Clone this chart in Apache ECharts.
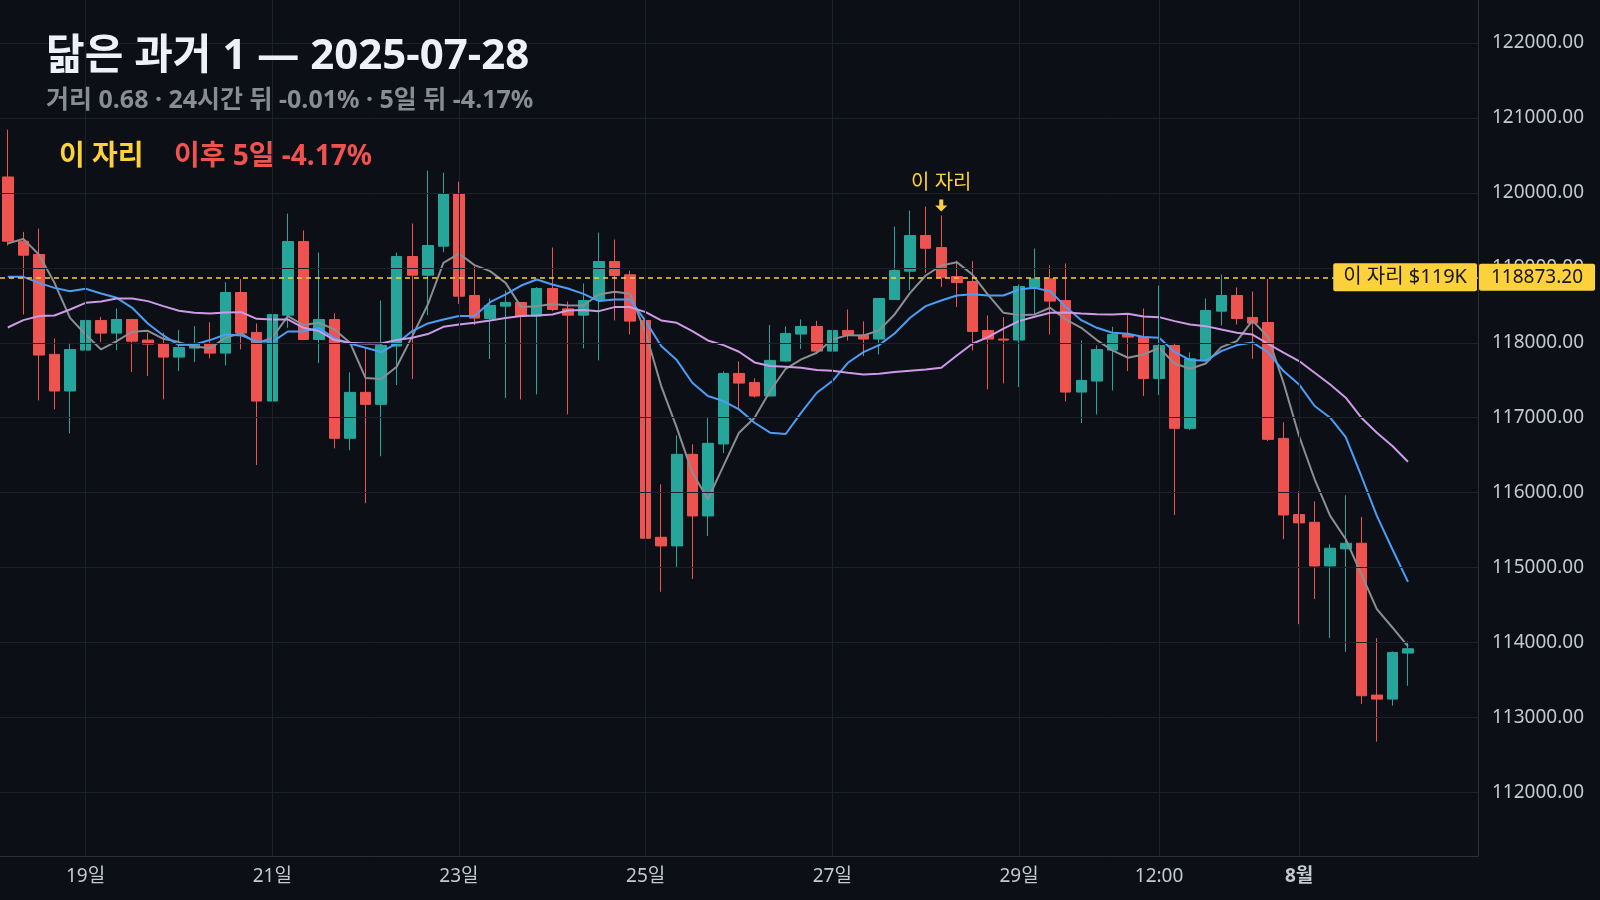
<!DOCTYPE html>
<html>
<head>
<meta charset="utf-8">
<script src="https://cdn.jsdelivr.net/npm/echarts@6/dist/echarts.min.js"></script>
<style>
  html, body { margin: 0; padding: 0; background: #0c0f16; }
  #chart { width: 1600px; height: 900px; }
</style>
</head>
<body>
<div id="chart"></div>
<script>
// 4시간봉, 2025-07-18 04:00 부터
const open  = [120213,119356,119178,117845,117356,117902,118298,118129,118311,118036,117991,117809,117929,117991,117862,118671,118138,117222,118369,119351,118044,118311,116725,117338,117178,117956,119151,118902,119289,119991,118631,118325,118489,118538,118356,118724,118453,118369,118578,119085,118907,118298,115404,115289,116511,115689,116649,117591,117471,117289,117756,118116,118218,117889,118165,118102,118049,118578,118956,119431,119271,118884,118818,118165,118049,118036,118738,118853,118564,117342,117489,117902,118111,118076,117524,117964,116858,117769,118422,118631,118338,118271,116724,115707,115604,115022,115249,115324,113298,113244,113858]
const high  = [120844,119480,119524,118058,118000,118347,118347,118458,118311,118133,118133,118169,118222,118276,118809,118853,118258,118591,119724,119498,119204,118391,117605,117933,118565,119204,119591,120298,120271,120151,119022,118591,118698,118538,118742,119271,118551,118791,119471,119378,118964,118356,116111,116765,116645,117005,117618,117751,117525,118236,118218,118311,118293,118365,118444,118285,118591,119551,119764,119818,119698,119098,119089,118365,118342,118778,119258,119031,119058,118031,117964,118213,118373,118458,118764,118000,117871,118591,118911,118738,118684,118853,116938,116018,115884,115311,115965,115676,114058,113880,114013]
const low   = [119298,118378,117231,117111,116791,117578,118009,117902,117609,117556,117245,117622,117742,117791,117698,117911,116369,116458,118200,118036,117729,116591,116565,115858,116485,117436,117516,118369,119209,118520,118236,117782,117262,117245,117311,118422,117045,117925,117765,118298,118111,115302,114676,115009,114849,115422,116529,117111,117270,117280,117747,117916,117871,117791,118031,117822,117844,118578,118702,118933,118742,118476,117898,117378,117458,117409,118378,118111,117218,116929,117044,117364,117622,117289,117302,115702,116836,117760,118231,118244,117787,116689,115378,114244,114578,114058,113876,113178,112676,113156,113422]
const close = [119356,119169,117836,117356,117911,118298,118129,118311,118022,117982,117809,117938,117991,117862,118671,118129,117222,118378,119351,118044,118311,116725,117338,117178,117964,119151,118902,119298,119991,118622,118329,118498,118538,118356,118724,118444,118369,118565,119085,118898,118289,115391,115289,116511,115689,116658,117591,117462,117289,117765,118125,118218,117889,118165,118102,118049,118591,118964,119431,119262,118873.2,118804,118151,118049,118036,118751,118853,118556,117342,117498,117911,118111,118076,117524,117964,116858,117787,118431,118631,118324,118262,116711,115702,115596,115022,115258,115324,113289,113244,113867,113916]

// 이동평균선
const maFast = [119324,119387,119178,118800,118333,118111,117911,118022,118147,118160,118053,118009,117947,117929,118067,118129,117991,118067,118356,118236,118267,118178,118000,117529,117516,117680,118089,118511,119067,119191,119036,118956,118800,118476,118489,118516,118498,118498,118644,118680,118653,118133,117422,116867,116267,115911,116356,116800,117000,117356,117653,117778,117867,118044,118102,118098,118165,118378,118667,118898,119031,119076,118911,118644,118400,118369,118378,118467,118311,118200,118036,117898,117800,117844,117933,117724,117653,117724,117942,118022,118295,118080,117467,116756,116178,115689,115378,114911,114444,114200,113947]
const maMid  = [118880,118880,118800,118733,118689,118720,118658,118600,118467,118258,118098,117969,117978,118036,118111,118098,118022,118013,118151,118151,118196,118058,117991,117933,117876,117991,118156,118258,118311,118356,118356,118542,118645,118764,118844,118778,118724,118653,118556,118578,118578,118289,117956,117769,117467,117289,117222,117111,116933,116800,116782,117067,117333,117489,117733,117876,117969,118124,118333,118489,118564,118631,118649,118631,118631,118711,118733,118689,118480,118302,118200,118133,118120,118076,118067,117880,117769,117760,117889,117969,118005,117876,117622,117444,117156,117000,116742,116222,115689,115244,114809]
const maSlow = [118204,118302,118356,118364,118444,118533,118551,118591,118591,118556,118489,118427,118400,118391,118404,118409,118320,118311,118311,118200,118156,118036,118000,117991,117991,118036,118067,118116,118213,118244,118267,118298,118331,118356,118364,118378,118431,118436,118422,118476,118476,118409,118298,118267,118156,118031,117969,117880,117738,117689,117680,117667,117636,117627,117600,117578,117587,117609,117627,117644,117667,117831,117987,118076,118189,118289,118347,118400,118404,118391,118382,118378,118387,118351,118342,118289,118244,118222,118178,118133,118109,117987,117867,117756,117600,117444,117267,117000,116800,116622,116413]

const tickIdx    = [5, 17, 29, 41, 53, 65, 74, 83]
const tickLabels = ['19일', '21일', '23일', '25일', '27일', '29일', '12:00', '8월']
const yTicks     = [112000,113000,114000,115000,116000,117000,118000,119000,120000,121000,122000]

const refIndex = 60
const refPrice = 118873.2
const padBars  = 4   // 오른쪽 여백

// 카테고리 (4시간 간격)
const cats = []
const t0 = Date.UTC(2025, 6, 18, 4)
for (let i = 0; i < open.length + padBars; i++) {
    const d = new Date(t0 + i * 4 * 3600 * 1000)
    const p = n => String(n).padStart(2, '0')
    cats.push(p(d.getUTCMonth() + 1) + '-' + p(d.getUTCDate()) + ' ' + p(d.getUTCHours()) + ':00')
}

const UP = '#26a69a', DOWN = '#ef5350', YELLOW = '#fdd13a'
const GRID = '#1c2029', AXIS = '#2c303a', LABEL = '#c4c8d0'
const FONT = '"Noto Sans", "Noto Sans CJK KR", sans-serif'

const ohlc = open.map((o, i) => [o, close[i], low[i], high[i]])

const chart = echarts.init(document.getElementById('chart'))

const option = {
    backgroundColor: '#0c0f16',
    animation: false,
    textStyle: { fontFamily: FONT },
    title: [
        { text: '닮은 과거 1 — 2025-07-28', left: 46, top: 36, padding: 0,
          textStyle: { color: '#eef1f5', fontSize: 42, fontWeight: 'bold', fontFamily: FONT } },
        { text: '거리 0.68 · 24시간 뒤 -0.01% · 5일 뒤 -4.17%', left: 46, top: 88, padding: 0,
          textStyle: { color: '#878c95', fontSize: 25, fontWeight: 'bold', fontFamily: FONT } },
        { text: '이 자리', left: 59, top: 143, padding: 0,
          textStyle: { color: YELLOW, fontSize: 28, fontWeight: 'bold', fontFamily: FONT } },
        { text: '이후 5일 -4.17%', left: 174, top: 143, padding: 0,
          textStyle: { color: DOWN, fontSize: 28, fontWeight: 'bold', fontFamily: FONT } },
    ],
    grid: { left: 0, right: 122, top: 0, bottom: 44 },
    xAxis: {
        type: 'category',
        data: cats,
        boundaryGap: true,
        axisLine: { show: true, lineStyle: { color: AXIS } },
        axisTick: { show: false },
        splitLine: { show: false },
        axisLabel: {
            interval: (i) => tickIdx.includes(i),
            formatter: (v, i) => {
                const k = tickIdx.indexOf(i)
                if (k < 0) return ''
                return tickLabels[k] === '8월' ? '{b|' + tickLabels[k] + '}' : tickLabels[k]
            },
            color: LABEL, fontSize: 19, margin: 11, fontFamily: FONT,
            rich: { b: { fontWeight: 'bold', color: LABEL, fontSize: 19, fontFamily: FONT } }
        }
    },
    yAxis: {
        type: 'value',
        position: 'right',
        min: 111150,
        max: 122575,
        axisLine: { show: true, lineStyle: { color: AXIS } },
        axisTick: { show: false },
        splitLine: { show: false },
        axisLabel: {
            customValues: yTicks,
            formatter: v => v.toFixed(2),
            color: LABEL, fontSize: 19, margin: 14, fontFamily: FONT
        }
    },
    series: [
        // 격자
        {
            type: 'line', data: [], silent: true, z: 0,
            markLine: {
                silent: true, symbol: 'none', animation: false,
                label: { show: false },
                lineStyle: { color: GRID, width: 1, type: 'solid' },
                emphasis: { disabled: true },
                data: [
                    ...yTicks.map(v => ({ yAxis: v })),
                    ...tickIdx.map(i => ({ xAxis: cats[i] }))
                ]
            }
        },
        {
            type: 'candlestick',
            data: ohlc,
            barWidth: 11,
            z: 2,
            itemStyle: { color: UP, color0: DOWN, borderColor: UP, borderColor0: DOWN, borderWidth: 1 },
            markPoint: {
                silent: true,
                animation: false,
                data: [{
                    coord: [cats[refIndex], high[refIndex]],
                    symbol: 'path://M4,0 L8,0 L8,6 L12,6 L6,12 L0,6 L4,6 Z',
                    symbolSize: [12, 12],
                    symbolOffset: [0, -10],
                    itemStyle: { color: YELLOW },
                    label: {
                        show: true, formatter: '이 자리', position: 'top', distance: 6,
                        color: YELLOW, fontSize: 20, fontFamily: FONT
                    }
                }]
            }
        },
        { type: 'line', data: maFast, symbol: 'none', z: 3, lineStyle: { color: '#8b8e93', width: 2 } },
        { type: 'line', data: maMid,  symbol: 'none', z: 3, lineStyle: { color: '#4a9ef5', width: 2 } },
        { type: 'line', data: maSlow, symbol: 'none', z: 3, lineStyle: { color: '#cd9ae8', width: 2 } },
        // 기준가 점선 + 축 태그
        {
            type: 'line', data: [], silent: true, z: 5,
            markLine: {
                silent: true, symbol: 'none', animation: false,
                emphasis: { disabled: true },
                data: [{
                    yAxis: refPrice,
                    lineStyle: { color: YELLOW, type: [5, 4], width: 1.5 },
                    label: {
                        show: true, position: 'end', distance: 1,
                        formatter: refPrice.toFixed(2),
                        backgroundColor: YELLOW, color: '#15171c', fontSize: 19,
                        padding: [4, 12], borderRadius: 2, fontFamily: FONT
                    }
                }]
            }
        },
        // 선 끝 안쪽 태그
        {
            type: 'line', data: [], silent: true, z: 6,
            markLine: {
                silent: true, symbol: 'none', animation: false,
                emphasis: { disabled: true },
                data: [{
                    yAxis: refPrice,
                    lineStyle: { color: 'rgba(0,0,0,0)', width: 0 },
                    label: {
                        show: true, position: 'end', distance: -1, align: 'right',
                        formatter: '이 자리 $119K',
                        backgroundColor: YELLOW, color: '#15171c', fontSize: 20,
                        padding: [4, 10], borderRadius: 2, fontFamily: FONT
                    }
                }]
            }
        }
    ]
}

chart.setOption(option)
</script>
</body>
</html>
